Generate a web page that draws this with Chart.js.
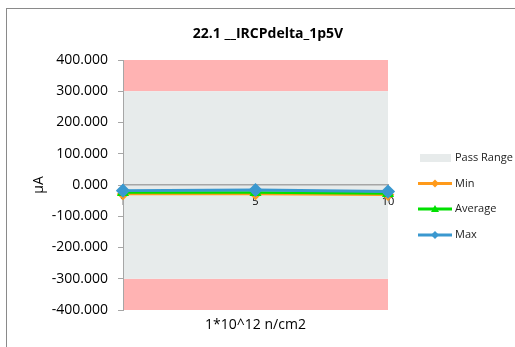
<!DOCTYPE html>
<html>
<head>
<meta charset="utf-8">
<script src="https://cdn.jsdelivr.net/npm/chart.js@4/dist/chart.umd.min.js"></script>
<style>
  html, body { margin: 0; padding: 0; background: #fff; }
  #wrap { position: relative; width: 515px; height: 347px; overflow: hidden; }
  #frame { position: absolute; left: 6px; top: 8px; width: 600px; height: 400px; border: 1px solid #8a8a8a; box-sizing: border-box; }
  canvas { position: absolute; left: 0; top: 0; }
</style>
</head>
<body>
<div id="wrap">
  <div id="frame"></div>
  <canvas id="c" width="515" height="347"></canvas>
</div>
<script>
// ---- data ----
const categories = ['1', '5', '10'];
const minVals = [-29, -29, -31];
const avgVals = [-24, -24, -27];
const maxVals = [-18, -16, -21];
const passUpper = [300, 300, 300];
const passLower = [-300, -300, -300];
const failTop = [400, 400, 400];
const failBottom = [-400, -400, -400];
const yMin = -400, yMax = 400, yStep = 100;
const chartTitle = '22.1 __IRCPdelta_1p5V';
const yTitle = 'µA';
const xTitle = '1*10^12 n/cm2';

const FONT = "'Open Sans', sans-serif";
const GRAY_BAND = '#E7EBEB';
const PINK = '#FFB3B3';
const C_MIN = '#FF9A1A';
const C_AVG = '#00E000';
const C_MAX = '#3A98CF';

const legendPlugin = {
  id: 'customLegend',
  afterDraw(chart) {
    const ctx = chart.ctx;
    const items = chart.data.datasets.filter(d => d.legendRank !== undefined).sort((a, b) => a.legendRank - b.legendRank);
    const x0 = 418, lineLen = 34, textX = 455;
    const ys = [158, 183.5, 209, 235];
    ctx.save();
    ctx.font = '11px ' + FONT;
    ctx.textBaseline = 'middle';
    ctx.textAlign = 'left';
    items.forEach((d, i) => {
      const y = ys[i];
      if (d.legendKind === 'box') {
        ctx.fillStyle = d.backgroundColor;
        ctx.fillRect(x0 + 2, y - 4, 31, 8);
      } else {
        ctx.strokeStyle = d.borderColor;
        ctx.lineWidth = 3;
        ctx.beginPath();
        ctx.moveTo(x0, y);
        ctx.lineTo(x0 + lineLen, y);
        ctx.stroke();
        ctx.fillStyle = d.borderColor;
        const cx = x0 + lineLen / 2;
        ctx.beginPath();
        if (d.pointStyle === 'triangle') {
          ctx.moveTo(cx, y - 4);
          ctx.lineTo(cx + 4, y + 3);
          ctx.lineTo(cx - 4, y + 3);
        } else {
          ctx.moveTo(cx, y - 4);
          ctx.lineTo(cx + 4, y);
          ctx.lineTo(cx, y + 4);
          ctx.lineTo(cx - 4, y);
        }
        ctx.closePath();
        ctx.fill();
      }
      ctx.fillStyle = '#222';
      ctx.fillText(d.label, textX, y);
    });
    ctx.restore();
  }
};

const bandBase = { pointRadius: 0, pointHoverRadius: 0, borderWidth: 0, order: 5, tension: 0, borderColor: 'rgba(0,0,0,0)' };

new Chart(document.getElementById('c'), {
  type: 'line',
  data: {
    labels: categories,
    datasets: [
      { label: 'Max', data: maxVals, borderColor: C_MAX, backgroundColor: C_MAX, borderWidth: 3, pointStyle: 'rectRot', pointRadius: 5, fill: false, order: 0, legendRank: 3 },
      { label: 'Average', data: avgVals, borderColor: C_AVG, backgroundColor: C_AVG, borderWidth: 2.5, pointStyle: 'triangle', pointRadius: 4.5, fill: false, order: 1, legendRank: 2 },
      { label: 'Min', data: minVals, borderColor: C_MIN, backgroundColor: C_MIN, borderWidth: 2.5, pointStyle: 'rectRot', pointRadius: 4.5, fill: false, order: 2, legendRank: 1 },
      Object.assign({}, bandBase, { label: 'Pass Lower', data: passLower, fill: false }),
      Object.assign({}, bandBase, { label: 'Pass Range', data: passUpper, fill: '-1', backgroundColor: GRAY_BAND, legendRank: 0, legendKind: 'box' }),
      Object.assign({}, bandBase, { label: 'Fail High', data: failTop, fill: 4, backgroundColor: PINK }),
      Object.assign({}, bandBase, { label: 'Fail Low', data: failBottom, fill: 3, backgroundColor: PINK })
    ]
  },
  options: {
    responsive: false,
    animation: false,
    events: [],
    layout: { padding: { left: 21, right: 0, top: 0, bottom: 0 } },
    plugins: {
      legend: { display: false },
      tooltip: { enabled: false },
      filler: { drawTime: 'beforeDraw' },
      title: { display: true, text: chartTitle, color: '#000', font: { family: FONT, size: 14, weight: 'bold' }, padding: { top: 25.6, bottom: 17.6 } }
    },
    scales: {
      x: {
        type: 'category', position: { y: 0 }, offset: false,
        afterFit: s => { s.height = 0; },
        grid: { display: false, drawTicks: false },
        border: { display: true, color: '#A6A6A6', width: 1.5 },
        ticks: { color: '#000', font: { family: FONT, size: 11 }, padding: 10, maxRotation: 0, autoSkip: false }
      },
      x2: {
        type: 'category', position: 'bottom', offset: false,
        afterFit: s => { s.height = 37; },
        grid: { display: false }, border: { display: false }, ticks: { display: false },
        title: { display: true, text: xTitle, color: '#000', font: { family: FONT, size: 14 }, padding: { top: 0, bottom: 14 } }
      },
      y: {
        type: 'linear', position: 'left', min: yMin, max: yMax,
        afterFit: s => { s.width = 102; },
        grid: { drawOnChartArea: false, drawTicks: true, tickLength: 5, color: '#A6A6A6' },
        border: { display: true, color: '#A6A6A6', width: 1 },
        ticks: { stepSize: yStep, color: '#000', font: { family: FONT, size: 14 }, padding: 10, callback: v => Number(v).toFixed(3) },
        title: { display: true, text: yTitle, color: '#000', font: { family: FONT, size: 14 }, padding: { top: 9.6, bottom: 0 } }
      },
      y2: {
        type: 'linear', position: 'right', min: yMin, max: yMax,
        afterFit: s => { s.width = 127; },
        grid: { display: false }, border: { display: false }, ticks: { display: false }
      }
    }
  },
  plugins: [legendPlugin]
});
</script>
</body>
</html>
